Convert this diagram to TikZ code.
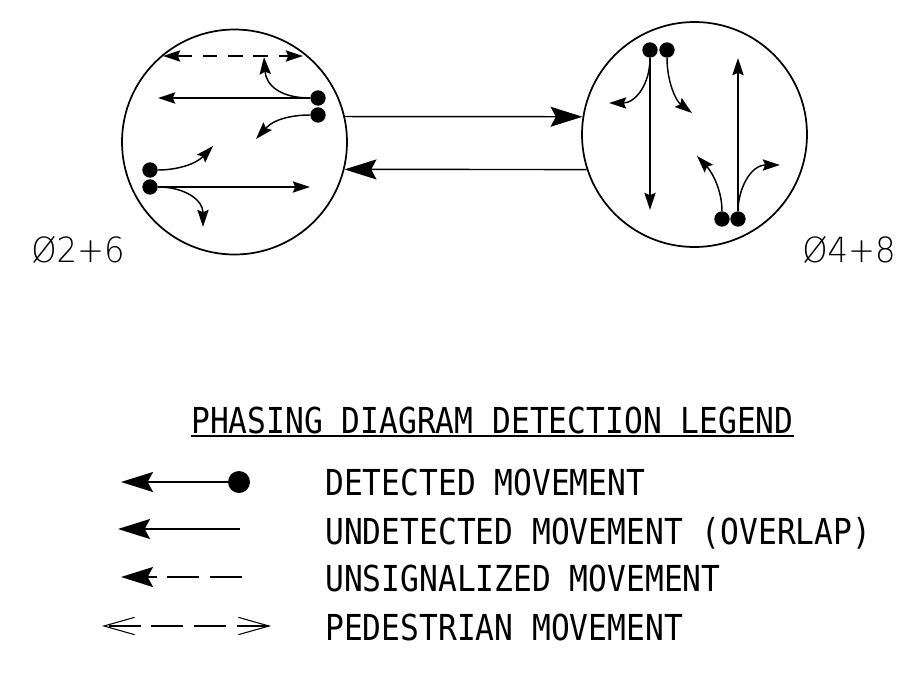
\documentclass[tikz,border=0pt]{standalone}
\usepackage{fontspec}
\usetikzlibrary{arrows.meta}
\newfontfamily\cadfont[FakeStretch=0.875]{DejaVu Sans Mono}
\newfontfamily\phasefont[FakeStretch=0.93]{DejaVu Sans ExtraLight}
\tikzset{
    ring/.style={circle,draw,line width=1.3pt,minimum size=168.75pt,inner sep=0pt},
    dot/.style={circle,fill,minimum size=11.5pt,inner sep=0pt},
    mv/.style={line width=1.1pt,-{Stealth[length=13pt,width=8.5pt,inset=2pt]}},
    big/.style={line width=1.1pt,-{Stealth[length=24pt,width=15pt,inset=4pt]}},
    legtxt/.style={anchor=west,inner sep=0pt,font=\cadfont\fontsize{26.8pt}{26.8pt}\selectfont},
    phase/.style={inner sep=0pt,font=\phasefont\fontsize{26pt}{26pt}\selectfont},
}
\begin{document}
\begin{tikzpicture}[x=0.75pt,y=-0.75pt]
    \useasboundingbox (0,0) rectangle (915,676);

    \node[ring] (left) at (234.5,142) {};
    \node[ring] (right) at (694.5,134.5) {};

    \node[dot] (a) at (318,98) {};
    \node[dot] (b) at (318,115) {};
    \node[dot] (c) at (150,170) {};
    \node[dot] (d) at (150,187) {};
    \node[dot] (e) at (650,50) {};
    \node[dot] (f) at (667,50) {};
    \node[dot] (g) at (722,219) {};
    \node[dot] (h) at (738,219) {};

    \coordinate (a1) at (158,98);
    \coordinate (a2) at (264,57);
    \coordinate (b1) at (256,139);
    \coordinate (c1) at (213,146);
    \coordinate (d1) at (310,187);
    \coordinate (d2) at (203,227);
    \coordinate (e1) at (650,210);
    \coordinate (e2) at (609,103);
    \coordinate (f1) at (692,113);
    \coordinate (g1) at (697,156);
    \coordinate (h1) at (738,58);
    \coordinate (h2) at (780,165);
    \coordinate (p1) at (163,56);
    \coordinate (p2) at (303,56);

    \draw[mv] (a) -- (a1);
    \draw[mv] (a) .. controls (280,98) and (266,85) .. (a2);
    \draw[mv] (b) .. controls (295,115) and (275,118) .. (b1);
    \draw[mv] (c) .. controls (175,170) and (195,165) .. (c1);
    \draw[mv] (d) -- (d1);
    \draw[mv] (d) .. controls (185,187) and (203,200) .. (d2);
    \draw[mv] (e) -- (e1);
    \draw[mv] (e) .. controls (650,85) and (635,103) .. (e2);
    \draw[mv] (f) .. controls (667,80) and (675,100) .. (f1);
    \draw[mv] (g) .. controls (722,190) and (712,172) .. (g1);
    \draw[mv] (h) -- (h1);
    \draw[mv] (h) .. controls (738,190) and (750,165) .. (h2);
    \draw[line width=1pt,dash pattern=on 11pt off 8pt,
        {Stealth[length=13pt,width=8.5pt,inset=2pt]}-{Stealth[length=13pt,width=8.5pt,inset=2pt]}] (p1) -- (p2);

    \draw[big] (left.13.2) -- (right.171.05);
    \draw[big] (right.198.6) -- (left.-14.4);

    \node[phase] (ph1) at (78,250) {Ø2+6};
    \node[phase] (ph2) at (849,250) {Ø4+8};

    \node[legtxt] (title) at (191,420) {PHASING DIAGRAM DETECTION LEGEND};
    \draw[line width=1.1pt] ([yshift=-1.5pt]title.south west) -- ([yshift=-1.5pt]title.south east);

    \node[legtxt] (t1) at (325,482) {DETECTED MOVEMENT};
    \node[legtxt] (t2) at (325,533) {UNDETECTED MOVEMENT (OVERLAP)};
    \node[legtxt] (t3) at (325,578) {UNSIGNALIZED MOVEMENT};
    \node[legtxt] (t4) at (325,627) {PEDESTRIAN MOVEMENT};

    \node[dot,minimum size=16.5pt] (k1) at (239,482) {};
    \coordinate (k1a) at (121,482);
    \coordinate (k2) at (240,529);
    \coordinate (k2a) at (118,529);
    \coordinate (k3) at (242,577);
    \coordinate (k3a) at (121,577);
    \coordinate (k4) at (271,626);
    \coordinate (k4a) at (102,626);

    \draw[big] (k1) -- (k1a);
    \draw[big] (k2) -- (k2a);
    \draw[big,dash pattern=on 24pt off 8pt,dash phase=0pt] (k3) -- (k3a);
    \draw[line width=0.8pt,dash pattern=on 24pt off 8pt,
        {Straight Barb[length=23pt,width=13pt]}-{Straight Barb[length=23pt,width=13pt]}] (k4) -- (k4a);
\end{tikzpicture}
\end{document}
